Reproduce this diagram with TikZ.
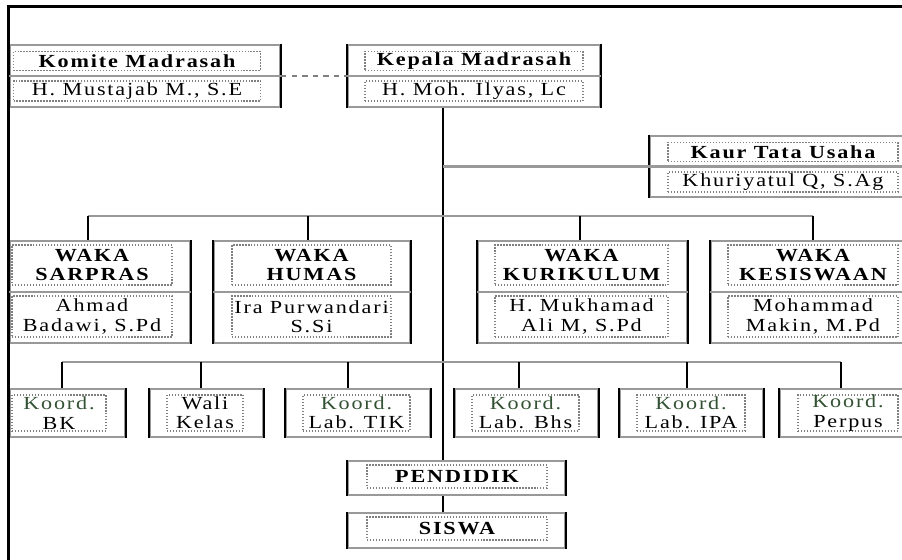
\documentclass[tikz,border=0pt]{standalone}
\usepackage{fontspec}
\setmainfont{Liberation Serif}[FakeStretch=1.2,LetterSpace=10]
\usetikzlibrary{positioning}
\definecolor{koordgreen}{rgb}{0.2,0.32,0.2}
\definecolor{rulegray}{gray}{0.6}
\newcommand{\koordtxt}{\textcolor{koordgreen}{Koord.}}

\begin{document}
\begin{tikzpicture}[x=0.02cm, y=-0.02cm,
    boxsize/.style 2 args={minimum width=#1*0.02cm, minimum height=#2*0.02cm, inner sep=0pt},
    outer/.style={draw=rulegray, line width=1.3pt},
    inner/.style={draw=gray, densely dotted, line width=0.7pt, align=center,
        font=\fontsize{10.5}{11}\selectfont},
    title/.style={inner, font=\fontsize{10.5}{11}\selectfont\bfseries},
    link/.style={line width=0.8pt},
    bus/.style={draw=rulegray, line width=1.4pt}]

    % Page and frame
    \clip (0,0) rectangle (902,560);
    \fill[white] (0,0) rectangle (902,560);
    \draw[line width=1.7pt] (8.5,560) -- (8.5,6.5) -- (902,6.5);

    % Top row
    \node[outer, boxsize={270}{62}] (komite) at (145,76) {};
    \node[title, boxsize={247}{19}] (komiteT) at (137,61) {Komite Madrasah};
    \node[inner, boxsize={247}{20}] (komiteN) at (137,91) {H. Mustajab M., S.E};

    \node[outer, boxsize={252}{62}] (kepala) at (474,76) {};
    \node[title, boxsize={218}{19}] (kepalaT) at (474,61) {Kepala Madrasah};
    \node[inner, boxsize={218}{20}] (kepalaN) at (474,91) {H. Moh. Ilyas, Lc};

    \node[outer, boxsize={256}{61}] (kaur) at (778,166.5) {};
    \node[title, boxsize={230}{19}] (kaurT) at (783,152) {Kaur Tata Usaha};
    \node[inner, boxsize={230}{20}] (kaurN) at (783,182) {Khuriyatul Q, S.Ag};

    % WAKA row
    \foreach \n/\x/\w/\xi/\wi/\t/\p in {
        sarpras/100/180/92/160/SARPRAS/{Ahmad\\Badawi, S.Pd},
        humas/312/196/311.5/159/HUMAS/{Ira Purwandari\\S.Si},
        kurikulum/582.5/209/581.5/173/KURIKULUM/{H. Mukhamad\\Ali M, S.Pd},
        kesiswaan/808.5/195/813/170/KESISWAAN/{Mohammad\\Makin, M.Pd}} {
        \node[outer, boxsize={\w}{102}] (\n) at (\x,292) {};
        \node[title, boxsize={\wi}{40}] (\n T) at (\xi,265) {WAKA\\\t};
        \node[inner, boxsize={\wi}{41}] (\n N) at (\xi,316.5) {\p};
    }

    % Koordinator row
    \foreach \n/\x/\w/\xi/\wi/\a/\b in {
        bk/67.5/115/59/94/\koordtxt/BK,
        wali/206.5/113/205/76/Wali/Kelas,
        tik/358/144/356.5/107/\koordtxt/Lab. TIK,
        bhs/526.5/143/525.5/107/\koordtxt/Lab. Bhs,
        ipa/691.5/143/691/108/\koordtxt/Lab. IPA,
        perpus/843/126/848/100/\koordtxt/Perpus} {
        \node[outer, boxsize={\w}{48}] (\n) at (\x,413) {};
        \node[inner, boxsize={\wi}{36}] (\n T) at (\xi,413) {\a\\\b};
    }

    % Bottom column
    \node[outer, boxsize={217}{34}] (pendidik) at (456.5,478) {};
    \node[title, boxsize={180}{23}] (pendidikT) at (457,476.5) {PENDIDIK};
    \node[outer, boxsize={217}{35}] (siswa) at (456.5,530.5) {};
    \node[title, boxsize={180}{23}] (siswaT) at (457,528.5) {SISWA};

    % Box sides and dividers
    \foreach \n in {komite,kepala,kaur,sarpras,humas,kurikulum,kesiswaan,
        bk,wali,tik,bhs,ipa,perpus,pendidik,siswa}
        \draw[line width=1.1pt] (\n.north west) -- (\n.south west)
            (\n.north east) -- (\n.south east);
    \foreach \n in {komite,kepala,kaur,sarpras,humas,kurikulum,kesiswaan}
        \draw[bus] (\n.west) -- (\n.east);

    % Connectors
    \draw[link, dashed, gray] (komite.east) -- (kepala.west);
    \coordinate (trunk) at (443,0);
    \draw[link] (trunk |- kepala.south) -- (trunk |- pendidik.north);
    \draw[link] (trunk |- pendidik.south) -- (trunk |- siswa.north);
    \draw[bus] (trunk |- kaur.west) -- (kaur.west);

    \coordinate (wakaL) at (88,216);
    \coordinate (wakaR) at (813,216);
    \draw[bus] (wakaL) -- (wakaR);
    \foreach \n/\x in {sarpras/88,humas/308,kurikulum/580,kesiswaan/813}
        \draw[link] (\x,216) -- (\x,0 |- \n.north);

    \coordinate (koordL) at (62,362);
    \coordinate (koordR) at (841,362);
    \draw[bus] (koordL) -- (koordR);
    \foreach \n/\x in {bk/62,wali/201,tik/348,bhs/519,ipa/687,perpus/841}
        \draw[link] (\x,362) -- (\x,0 |- \n.north);
\end{tikzpicture}
\end{document}
